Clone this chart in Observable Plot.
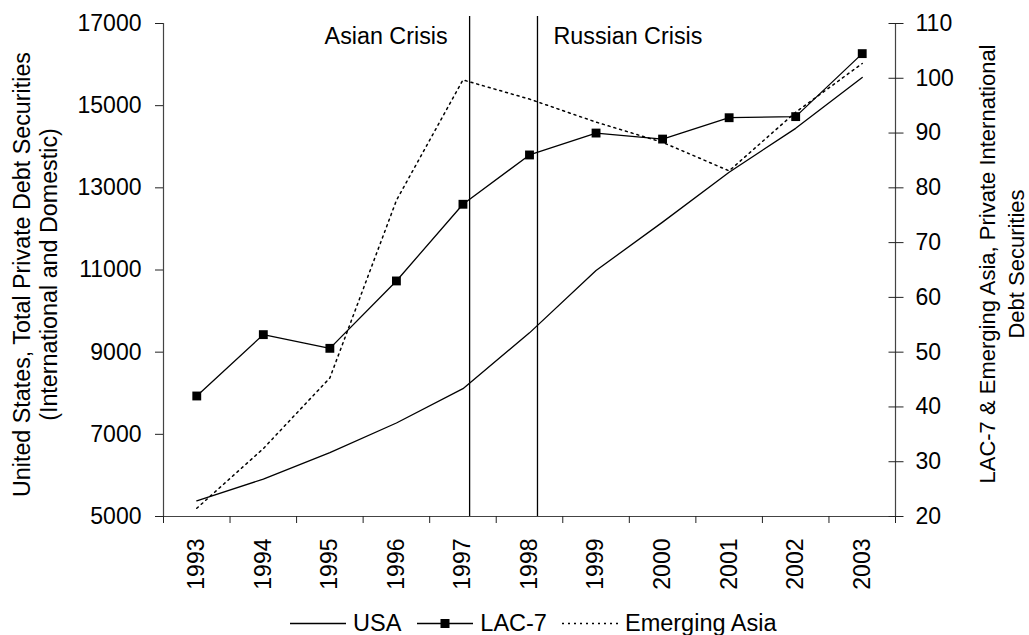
<!DOCTYPE html>
<html><head><meta charset="utf-8">
<script src="https://cdn.jsdelivr.net/npm/d3@7"></script>
<script src="https://cdn.jsdelivr.net/npm/@observablehq/plot@0.6"></script>
<style>
body{margin:0;background:#fff;font-family:"Liberation Sans",Arial,sans-serif;}
#wrap{position:relative;width:1029px;height:635px;overflow:hidden;background:#fff;}
#legend{position:absolute;left:290px;top:608px;height:30px;display:flex;align-items:center;font-size:23.5px;color:#000;white-space:nowrap;}
#legend .item{display:flex;align-items:center;}
#legend svg{display:block;}
</style></head><body>
<div id="wrap"><div id="chart"></div><div id="legend"></div></div>
<script>
const years = [1993,1994,1995,1996,1997,1998,1999,2000,2001,2002,2003];
const usa   = [5380,5910,6556,7276,8112,9470,10988,12165,13378,14448,15688];
const lac7  = [42.0,53.2,50.7,63.0,77.0,86.0,90.0,88.9,92.8,93.0,104.5];
const asia  = [21.5,32.4,45.3,77.7,99.7,96.2,92.0,88.3,83.1,93.8,102.7];
const leftTicks  = [5000,7000,9000,11000,13000,15000,17000];
const rightTicks = [20,30,40,50,60,70,80,90,100,110];
const crisisLabels = ["Asian Crisis","Russian Crisis"];
const crisisX = [1997.1, 1998.12];
const legendLabels = ["USA","LAC-7","Emerging Asia"];

const leftMin = 5000, leftMax = 17000, rightMin = 20, rightMax = 110;
const toLeft = v => leftMin + (v - rightMin) * (leftMax - leftMin) / (rightMax - rightMin);
const rows = years.map((yr,i)=>({year:yr, usa:usa[i], lac7:toLeft(lac7[i]), asia:toLeft(asia[i])}));
const bounds = years.map(y=>y-0.5).concat([years[years.length-1]+0.5]);
const crises = crisisLabels.map((l,i)=>({label:l, x:crisisX[i]}));
const font = '"Liberation Sans", Arial, sans-serif';
const axisColor = "#444";
const fs = 23;

const chart = Plot.plot({
  width: 1029, height: 600,
  marginLeft: 163, marginRight: 134, marginTop: 23, marginBottom: 84,
  style: {fontFamily: font, fontSize: fs + "px", color: "#000", background: "#fff", overflow: "visible"},
  x: {domain: [bounds[0], bounds[bounds.length-1]], axis: null},
  y: {domain: [leftMin, leftMax], axis: null},
  marks: [
    Plot.ruleY([leftMin], {stroke: axisColor, strokeWidth: 1.2}),
    Plot.ruleX([bounds[0], bounds[bounds.length-1]], {stroke: axisColor, strokeWidth: 1.2}),
    Plot.axisX({ticks: bounds, tickSize: 7, tickFormat: () => "", stroke: "#222", label: null}),
    Plot.axisX({ticks: years, tickSize: 0, tickPadding: 22, tickRotate: -90, tickFormat: d => String(d), fontSize: fs, label: null}),
    Plot.axisY({anchor: "left", ticks: leftTicks, tickSize: 8, tickPadding: 14, tickFormat: d => String(d), fontSize: fs, stroke: "#222", label: null}),
    Plot.axisY({anchor: "right", ticks: rightTicks.map(toLeft), tickSize: 15, dx: -7.5, tickFormat: () => "", stroke: "#222", label: null}),
    Plot.axisY({anchor: "right", ticks: rightTicks.map(toLeft), tickSize: 0, tickPadding: 20, tickFormat: d => String(Math.round(rightMin + (d - leftMin) * (rightMax - rightMin) / (leftMax - leftMin))), fontSize: fs, label: null}),
    Plot.ruleX(crises, {x: "x", stroke: "#000", strokeWidth: 1.3, insetTop: -7}),
    Plot.text(crises.filter((d,i)=>i===0), {x: "x", text: "label", frameAnchor: "top", lineAnchor: "middle", textAnchor: "end", dx: -22, dy: 13.4, fontSize: 23.3, fill: "#000"}),
    Plot.text(crises.filter((d,i)=>i===1), {x: "x", text: "label", frameAnchor: "top", lineAnchor: "middle", textAnchor: "start", dx: 16, dy: 13.4, fontSize: 23.3, fill: "#000"}),
    Plot.line(rows, {x: "year", y: "usa", stroke: "#000", strokeWidth: 1.3}),
    Plot.line(rows, {x: "year", y: "asia", stroke: "#000", strokeWidth: 1.5, strokeDasharray: "2,4"}),
    Plot.line(rows, {x: "year", y: "lac7", stroke: "#000", strokeWidth: 1.3}),
    Plot.dot(rows, {x: "year", y: "lac7", symbol: "square", r: 5, fill: "#000", stroke: null})
  ]
});
document.getElementById("chart").appendChild(chart);

// Axis titles
const svg = d3.select(chart);
function vtitle(lines, baselines, cy, size){
  lines.forEach((t,i)=>{
    svg.append("text")
      .attr("transform", `translate(${baselines[i]},${cy}) rotate(-90)`)
      .attr("text-anchor","middle")
      .attr("font-family", font)
      .attr("font-size", size)
      .attr("fill","#000")
      .text(t);
  });
}
vtitle(["United States, Total Private Debt Securities","(International and Domestic)"],[29.5,57],274.5,23.3);
vtitle(["LAC-7 & Emerging Asia, Private International","Debt Securities"],[995,1023.5],264,22);

// Legend
const legend = d3.select("#legend");
const styles = [
  {dash: null, marker: false},
  {dash: null, marker: true},
  {dash: "2,4", marker: false}
];
const gapsAfter = [16, 15, 0];
legendLabels.forEach((lab,i)=>{
  const it = legend.append("div").attr("class","item").style("margin-right", gapsAfter[i]+"px");
  const s = it.append("svg").attr("width",56).attr("height",20);
  s.append("line").attr("x1",0).attr("x2",56).attr("y1",10.5).attr("y2",10.5)
    .attr("stroke","#000").attr("stroke-width",i===2?1.5:1.3)
    .attr("stroke-dasharray", styles[i].dash);
  if(styles[i].marker) s.append("rect").attr("x",23.5).attr("y",6).attr("width",9).attr("height",9).attr("fill","#000");
  it.append("span").style("margin-left","7px").text(lab);
});
</script>
</body></html>
